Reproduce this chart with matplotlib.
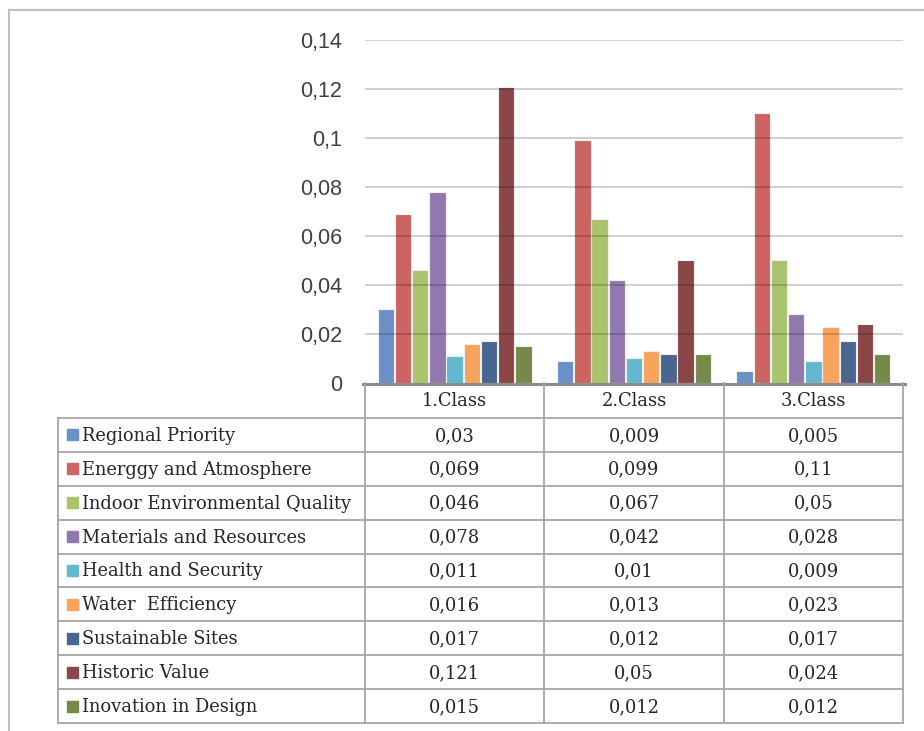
import numpy as np
import matplotlib.pyplot as plt
from matplotlib.patches import Rectangle
from matplotlib.lines import Line2D

classes = ['1.Class', '2.Class', '3.Class']
criteria = ['Regional Priority', 'Energgy and Atmosphere', 'Indoor Environmental Quality',
            'Materials and Resources', 'Health and Security', 'Water  Efficiency',
            'Sustainable Sites', 'Historic Value', 'Inovation in Design']
weights = [
    [0.03, 0.009, 0.005],
    [0.069, 0.099, 0.11],
    [0.046, 0.067, 0.05],
    [0.078, 0.042, 0.028],
    [0.011, 0.01, 0.009],
    [0.016, 0.013, 0.023],
    [0.017, 0.012, 0.017],
    [0.121, 0.05, 0.024],
    [0.015, 0.012, 0.012],
]
colors = ['#6991C8', '#CC6461', '#A9C46D', '#9179AF', '#63B8CF',
          '#F8A45D', '#49668E', '#8B4747', '#76894B']
yticks = [0, 0.02, 0.04, 0.06, 0.08, 0.1, 0.12, 0.14]


def fmt(v):
    s = ('%.3f' % v).rstrip('0').rstrip('.')
    return s.replace('.', ',')


W, H = 924, 731
fig = plt.figure(figsize=(W / 100, H / 100), dpi=100)

# pixel layout
px_l, px_r = 365, 903
px_top, px_zero = 40, 383
tab_l, tab_bot = 58, 723
head_bot = 418

serif = ['DejaVu Serif']
sans = ['Liberation Sans Narrow', 'Liberation Sans', 'DejaVu Sans']
fs = 12.9

ax = fig.add_axes([px_l / W, 1 - px_zero / H, (px_r - px_l) / W, (px_zero - px_top) / H])
n = len(criteria)
slot = 0.096
x = np.arange(len(classes))
for i, (name, vals) in enumerate(zip(criteria, weights)):
    ax.bar(x + (i - (n - 1) / 2) * slot, vals, width=slot * 0.95, color=colors[i],
           edgecolor='#F0F0F0', linewidth=0.8, zorder=2)
ax.set_xlim(-0.5, 2.5)
ax.set_ylim(0, 0.14)
ax.set_yticks(yticks)
ax.set_yticklabels([fmt(v) if v else '0' for v in yticks], family=sans, fontsize=15.5, color='#404040')
for v in yticks[1:]:
    ax.axhline(v, color='black', alpha=0.2, lw=1.3, zorder=3)
ax.tick_params(axis='y', length=0, pad=16.5)
ax.set_xticks([])
for s in ax.spines.values():
    s.set_visible(False)
ax.patch.set_alpha(0)

# data table below the columns
tab = fig.add_axes([0, 0, 1, 1])
tab.set_xlim(0, W)
tab.set_ylim(H, 0)
tab.axis('off')
gc = '#A6A6A6'
col_w = (px_r - px_l) / len(classes)
row_h = (tab_bot - head_bot) / n

tab.add_line(Line2D([px_l - 2, px_r + 2], [px_zero + 1, px_zero + 1], color='#8C8C8C', lw=2.2))
for k in range(len(classes) + 1):
    xx = px_l + k * col_w
    tab.add_line(Line2D([xx, xx], [px_zero, tab_bot], color=gc, lw=1.3))
for j, c in enumerate(classes):
    tab.text(px_l + (j + 0.5) * col_w, (px_zero + head_bot) / 2 + 1, c, ha='center', va='center',
             family=serif, fontsize=fs, color='#262626')
tab.add_line(Line2D([tab_l, tab_l], [head_bot, tab_bot], color=gc, lw=1.3))
for r in range(n + 1):
    yy = head_bot + r * row_h
    tab.add_line(Line2D([tab_l, px_r], [yy, yy], color=gc, lw=1.3))
for i, (name, vals) in enumerate(zip(criteria, weights)):
    yc = head_bot + (i + 0.5) * row_h
    tab.add_patch(Rectangle((67, yc - 5.5), 11, 11, color=colors[i]))
    tab.text(82, yc + 1, name, ha='left', va='center', family=serif, fontsize=fs, color='#262626')
    for j, v in enumerate(vals):
        tab.text(px_l + (j + 0.5) * col_w, yc + 1, fmt(v), ha='center', va='center',
                 family=serif, fontsize=fs, color='#262626')

# outer frame
tab.add_line(Line2D([9, W], [10, 10], color='#BFBFBF', lw=1.5))
tab.add_line(Line2D([9, 9], [10, H], color='#BFBFBF', lw=1.5))

fig.savefig('out.png', dpi=100)
